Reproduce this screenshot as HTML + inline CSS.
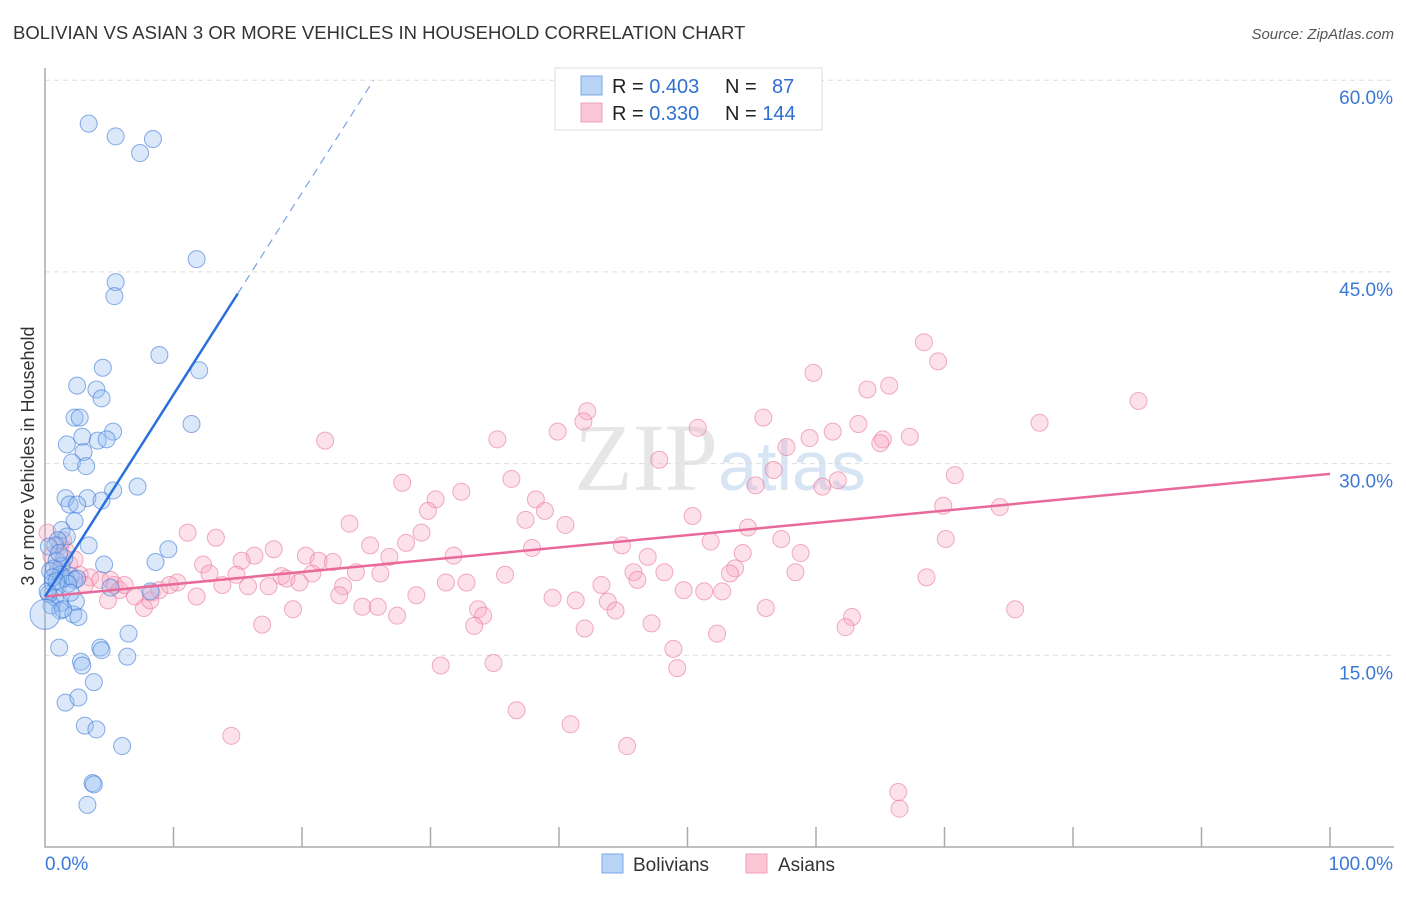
<!DOCTYPE html>
<html><head><meta charset="utf-8"><style>
body{margin:0;background:#fff;font-family:"Liberation Sans",sans-serif;}
svg text{font-family:"Liberation Sans",sans-serif;}
</style></head><body>
<svg id="chart" width="1406" height="892" xmlns="http://www.w3.org/2000/svg">
<text x="13" y="39" font-size="18.5" fill="#333">BOLIVIAN VS ASIAN 3 OR MORE VEHICLES IN HOUSEHOLD CORRELATION CHART</text>
<text x="1394" y="39" font-size="15" fill="#555" text-anchor="end" font-style="italic">Source: ZipAtlas.com</text>
<text x="720" y="490" font-size="96" fill="#e6e6e6" text-anchor="middle" font-family="Liberation Serif"><tspan font-family="Liberation Serif">ZIP</tspan><tspan font-size="70" fill="#d6e4f4" font-family="Liberation Sans">atlas</tspan></text>
<g id="grid"></g>
<g id="axes"></g>
<g id="pts"></g>
<g id="lines"></g>
<text transform="translate(34,456) rotate(-90)" font-size="18" fill="#333" text-anchor="middle">3 or more Vehicles in Household</text>
<g>
<rect x="555" y="68" width="267" height="62" fill="#fff" stroke="#ddd"/>
<rect x="581" y="76" width="21" height="19" fill="#b8d3f5" stroke="#7aa8e6"/>
<rect x="581" y="103" width="21" height="19" fill="#fbc6d6" stroke="#eea0b8"/>
<text x="612" y="93" font-size="20" fill="#222">R = <tspan fill="#2f6fd0">0.403</tspan></text>
<text x="725" y="93" font-size="20" fill="#222">N = <tspan fill="#2f6fd0" x="772">87</tspan></text>
<text x="612" y="120" font-size="20" fill="#222">R = <tspan fill="#2f6fd0">0.330</tspan></text>
<text x="725" y="120" font-size="20" fill="#222">N = <tspan fill="#2f6fd0">144</tspan></text>
</g>
<g>
<rect x="602" y="854" width="21" height="19" fill="#b8d3f5" stroke="#7aa8e6"/>
<text x="633" y="871" font-size="19" fill="#333">Bolivians</text>
<rect x="746" y="854" width="21" height="19" fill="#fbc6d6" stroke="#eea0b8"/>
<text x="778" y="871" font-size="19" fill="#333">Asians</text>
</g>
</svg>
<script>
const yTicks=[15,30,45,60];
const yTickLabels=["15.0%","30.0%","45.0%","60.0%"];
const blueX=[3.4,5.5,7.4,8.4,11.8,5.5,5.4,8.9,4.5,2.5,4.0,4.4,12.0,2.3,2.7,11.4,2.9,5.3,4.1,4.8,1.7,3.0,2.1,3.2,7.2,5.3,1.6,3.3,4.4,1.9,2.5,2.3,1.3,1.7,1.0,3.4,0.8,9.6,4.6,8.6,5.1,8.2,1.1,2.8,2.9,4.3,4.4,6.5,6.4,3.8,1.6,2.6,3.1,4.0,6.0,3.7,3.8,3.3,0.9,1.3,0.4,1.2,1.6,0.6,1.0,2.0,2.3,0.8,1.2,0.5,1.2,0.3,2.2,2.6,2.5,0.2,1.5,2.4,0.7,1.8,0.3,1.1,2.0,0.6,1.4,0.9];
const blueY=[56.6,55.6,54.3,55.4,46.0,44.2,43.1,38.5,37.5,36.1,35.8,35.1,37.3,33.6,33.6,33.1,32.1,32.5,31.8,31.9,31.5,30.9,30.1,29.8,28.2,27.9,27.3,27.3,27.1,26.8,26.8,25.5,24.8,24.3,24.0,23.6,23.6,23.3,22.1,22.3,20.3,20.0,15.6,14.5,14.2,15.6,15.4,16.7,14.9,12.9,11.3,11.7,9.5,9.2,7.9,5.0,4.9,3.3,22.4,22.0,21.6,21.3,21.0,20.7,20.4,21.2,20.9,19.5,19.1,18.9,18.5,19.8,18.2,18.0,21.0,20.0,22.6,19.2,21.8,20.6,23.5,23.0,19.9,21.1,18.6,20.8];
const pinkX=[68.4,69.5,85.1,59.8,64.0,65.7,42.2,41.9,55.9,77.4,50.8,63.3,61.3,59.5,39.9,67.3,65.2,65.0,35.2,21.8,57.7,47.8,56.7,70.8,61.7,60.5,55.3,36.3,27.8,32.4,38.2,30.4,29.8,38.9,69.9,74.3,50.4,37.4,23.7,40.5,54.7,29.3,11.1,13.3,57.3,70.1,51.8,44.9,25.3,28.1,37.9,17.8,54.3,58.8,20.3,16.3,31.8,21.3,46.9,26.8,12.3,15.3,22.4,53.7,48.2,45.8,24.2,26.1,12.8,20.8,14.9,35.8,58.4,68.6,53.3,18.4,18.8,31.2,32.8,46.1,10.3,19.8,13.8,15.8,17.4,23.2,43.3,49.7,51.3,52.7,28.9,22.9,8.3,11.8,39.5,41.3,43.8,19.3,24.7,25.9,33.7,56.1,75.5,7.7,44.4,27.4,34.1,62.8,16.9,47.2,33.4,42.0,62.3,52.3,48.9,34.9,30.8,49.2,36.7,40.9,14.5,45.3,66.4,66.5,1.2,1.6,1.9,1.0,2.7,3.5,4.3,5.1,5.4,5.8,6.2,4.9,7.0,8.2,8.9,9.7,1.4,2.3,0.5,3.1,0.2];
const pinkY=[39.5,38.0,34.9,37.1,35.8,36.1,34.1,33.3,33.6,33.2,32.8,33.1,32.5,32.0,32.5,32.1,31.9,31.6,31.9,31.8,31.3,30.3,29.5,29.1,28.7,28.2,28.3,28.8,28.5,27.8,27.2,27.2,26.3,26.3,26.7,26.6,25.9,25.6,25.3,25.2,25.0,24.6,24.6,24.2,24.1,24.1,23.9,23.6,23.6,23.8,23.4,23.3,23.0,23.0,22.8,22.8,22.8,22.4,22.7,22.7,22.1,22.4,22.3,21.8,21.5,21.5,21.5,21.4,21.4,21.4,21.3,21.3,21.5,21.1,21.4,21.2,21.0,20.7,20.7,20.9,20.7,20.7,20.5,20.4,20.4,20.4,20.5,20.1,20.0,20.0,19.7,19.7,19.9,19.6,19.5,19.3,19.2,18.6,18.8,18.8,18.6,18.7,18.6,18.7,18.5,18.1,18.1,18.0,17.4,17.5,17.3,17.1,17.2,16.7,15.5,14.4,14.2,14.0,10.7,9.6,8.7,7.9,4.3,3.0,23.6,23.2,22.1,21.7,21.3,21.1,20.9,20.9,20.5,20.1,20.5,19.3,19.6,19.3,20.1,20.5,24.0,22.5,22.8,20.5,24.6];
const blueTrend=[19.6,1.58];
const pinkTrend=[19.6,0.096];
const NS='http://www.w3.org/2000/svg';
function sx(v){return 45+v*12.85;}
function sy(v){return 847-v*12.78;}
function mk(tag,attrs,parent){const e=document.createElementNS(NS,tag);for(const k in attrs)e.setAttribute(k,attrs[k]);parent.appendChild(e);return e;}
const grid=document.getElementById('grid'),axes=document.getElementById('axes'),pts=document.getElementById('pts'),lines=document.getElementById('lines');
yTicks.forEach((t,i)=>{
 const l=mk('line',{x1:45,x2:1394,y1:sy(t),y2:sy(t),stroke:'#ddd','stroke-dasharray':'5,4'},grid);
 
 
 const tx=mk('text',{x:1393,y:sy(t)+24,'font-size':19,fill:'#3b78d8','text-anchor':'end'},axes);
 tx.textContent=yTickLabels[i];
 
 
});
const ax=mk('path',{d:'M45 68 V847 H1394',fill:'none',stroke:'#aaa','stroke-width':1.5},axes);


for(let i=1;i<=10;i++){const tk=mk('line',{x1:sx(i*10),x2:sx(i*10),y1:827,y2:847,stroke:'#aaa','stroke-width':1.5},axes);
 
 }
const x0=mk('text',{x:45,y:870,'font-size':19,fill:'#3b78d8'},axes);x0.textContent='0.0%';


const x1=mk('text',{x:1393,y:870,'font-size':19,fill:'#3b78d8','text-anchor':'end'},axes);x1.textContent='100.0%';


function dots(X,Y,fill,stroke,name){X.forEach((x,i)=>{const c=mk('circle',{cx:sx(x),cy:sy(Y[i]),r:8.5,fill:fill,stroke:stroke,'stroke-width':1},pts);
 
 });}
dots(pinkX,pinkY,'rgba(248,170,195,0.35)','rgba(232,120,155,0.6)','asian-point');
dots(blueX,blueY,'rgba(150,190,240,0.35)','rgba(60,120,215,0.6)','bolivian-point');
const bb=mk('circle',{cx:sx(0),cy:sy(18.2),r:15,fill:'rgba(150,190,240,0.35)',stroke:'rgba(60,120,215,0.6)'},pts);


const pl=mk('line',{x1:sx(0),y1:sy(pinkTrend[0]),x2:sx(100),y2:sy(pinkTrend[0]+pinkTrend[1]*100),stroke:'#e8699a','stroke-width':2.5},lines);


const bl=mk('line',{x1:sx(0),y1:sy(blueTrend[0]),x2:sx(15),y2:sy(blueTrend[0]+blueTrend[1]*15),stroke:'#2a6fdb','stroke-width':2.5},lines);


const xe=(60-blueTrend[0])/blueTrend[1];
const bd=mk('line',{x1:sx(15),y1:sy(blueTrend[0]+blueTrend[1]*15),x2:sx(xe),y2:sy(60),stroke:'#7aa3e0','stroke-width':1.2,'stroke-dasharray':'8,6'},lines);


</script>
</body></html>
